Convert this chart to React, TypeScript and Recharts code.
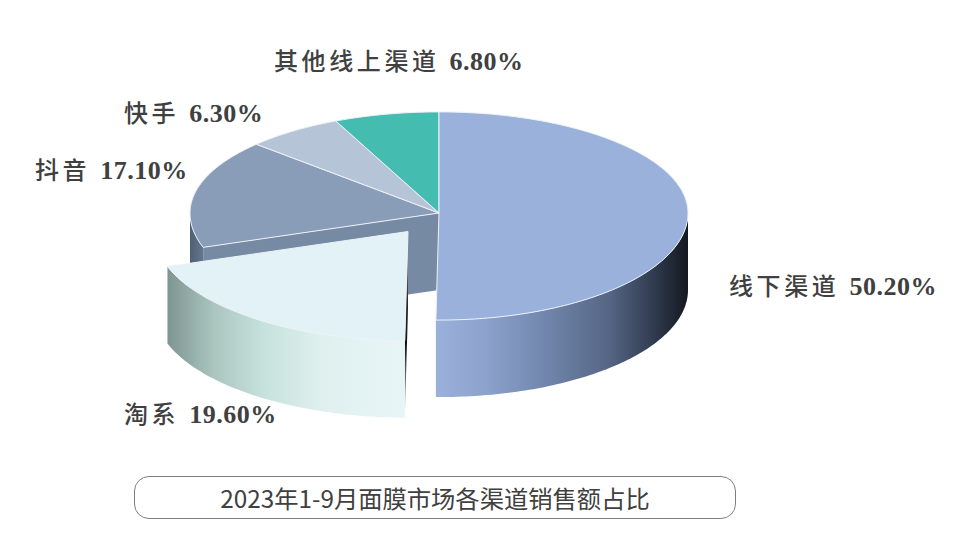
import React from "react";
import { PieChart, Pie } from "recharts";

const categories = ["抖音", "快手", "其他线上渠道", "线下渠道", "淘系"];
const values = [17.1, 6.3, 6.8, 50.2, 19.6];
const valueLabels = ["17.10%", "6.30%", "6.80%", "50.20%", "19.60%"];
const topColors = ["#8a9db8", "#b5c4d6", "#45bcb0", "#9ab1dc", "#e3f2f6"];
const wallFills = ["url(#wallDouyin)", "#b5c4d6", "#45bcb0", "url(#wallOffline)", "url(#wallTaoxi)"];
const tableData = categories.map((name, i) => ({ name, value: values[i] }));

const W = 970, H = 546;
const CX = 439, CY = 213, RX = 249, BACK_RATIO = 0.406, FRONT_RATIO = 0.43, DEPTH = 77;
const EXPLODED = 4;
const EXPLODE_DX = -31, EXPLODE_DY = 18.5, EXPLODE_SCALE = 1.02;
const START = 90 - 251.28;
const labelPos = [[35, 179], [124, 122], [274, 70], [729, 295], [124, 423]];

const rad = (d: number) => (d * Math.PI) / 180;

function Slice3D(props: any) {
  const { startAngle, endAngle, outerRadius, cx, cy, index } = props;
  const exploded = index === EXPLODED;
  const rx = outerRadius * (exploded ? EXPLODE_SCALE : 1);
  const ox = cx + (exploded ? EXPLODE_DX : 0);
  const oy = cy + (exploded ? EXPLODE_DY : 0);
  let t0 = 90 - startAngle;
  let t1 = 90 - endAngle;
  while (t0 >= 359.99) { t0 -= 360; t1 -= 360; }
  const P = (t: number, d = 0) => {
    const c = Math.cos(rad(t));
    const ry = rx * (c > 0 ? BACK_RATIO : FRONT_RATIO);
    return [ox + rx * Math.sin(rad(t)), oy - ry * c + d];
  };
  const sweep = (a: number, b: number, d = 0) => {
    const n = Math.max(2, Math.ceil(Math.abs(b - a)));
    let s = "";
    for (let k = 0; k <= n; k++) {
      const [x, y] = P(a + ((b - a) * k) / n, d);
      s += `L${x} ${y}`;
    }
    return s;
  };
  const [sx, sy] = P(t0);
  const top = `M${ox} ${oy}${sweep(t0, t1)}Z`;
  const w0 = Math.max(t0, 90);
  const w1 = Math.min(t1, 270);
  let wall: string | null = null;
  if (w1 > w0) {
    wall = `M${P(w0)[0]} ${P(w0)[1]}${sweep(w0, w1)}${sweep(w1, w0, DEPTH)}Z`;
  }
  const face = `M${ox} ${oy}L${sx} ${sy}L${sx} ${sy + DEPTH}L${ox} ${oy + DEPTH}Z`;
  return (
    <g>
      {index === 0 && <path d={face} fill="#778aa4" />}
      {exploded && <path d={face} fill="url(#faceTaoxi)" />}
      {wall && <path d={wall} fill={wallFills[index]} stroke="none" />}
      <path d={top} fill={topColors[index]} stroke="#eef2f7" strokeWidth={1} strokeLinejoin="round" />
    </g>
  );
}

const renderLabel = (props: any) => {
  const i = props.index;
  const [x, y] = labelPos[i];
  return (
    <text key={i} x={x} y={y} fill="#404040">
      <tspan fontFamily="'Noto Sans CJK SC'" fontSize={24} fontWeight={500} letterSpacing={3.6}>
        {categories[i]}
      </tspan>
      <tspan dx={10} fontFamily="'Liberation Serif'" fontSize={26} fontWeight={700} letterSpacing={0.5}>
        {valueLabels[i]}
      </tspan>
    </text>
  );
};

export default function App() {
  return (
    <div style={{ position: "absolute", left: 0, top: 0, width: W, height: H, background: "#fff" }}>
      <PieChart width={W} height={H} margin={{ top: 0, right: 0, bottom: 0, left: 0 }}>
        <defs>
          <linearGradient id="wallOffline" gradientUnits="userSpaceOnUse" x1={436} x2={689} y1={0} y2={0}>
            <stop offset="0" stopColor="#9ab1dc" />
            <stop offset="0.2" stopColor="#8ca2cc" />
            <stop offset="0.45" stopColor="#6f84aa" />
            <stop offset="0.68" stopColor="#566685" />
            <stop offset="0.85" stopColor="#323e53" />
            <stop offset="1" stopColor="#13171e" />
          </linearGradient>
          <linearGradient id="wallTaoxi" gradientUnits="userSpaceOnUse" x1={167} x2={405} y1={0} y2={0}>
            <stop offset="0" stopColor="#7f9490" />
            <stop offset="0.2" stopColor="#aac6bf" />
            <stop offset="0.4" stopColor="#c6e1db" />
            <stop offset="0.65" stopColor="#dff0ef" />
            <stop offset="1" stopColor="#e8f5f7" />
          </linearGradient>
          <linearGradient id="wallDouyin" gradientUnits="userSpaceOnUse" x1={190} x2={204} y1={0} y2={0}>
            <stop offset="0" stopColor="#4f6074" />
            <stop offset="1" stopColor="#66788f" />
          </linearGradient>
          <linearGradient id="faceTaoxi" gradientUnits="userSpaceOnUse" x1={0} x2={0} y1={231} y2={418}>
            <stop offset="0" stopColor="#c8d0d4" />
            <stop offset="0.35" stopColor="#2a2e30" />
            <stop offset="0.6" stopColor="#101214" />
            <stop offset="1" stopColor="#c8d0d4" />
          </linearGradient>
        </defs>
        <Pie
          data={tableData}
          dataKey="value"
          nameKey="name"
          cx={CX}
          cy={CY}
          innerRadius={0}
          outerRadius={RX}
          startAngle={START}
          endAngle={START - 360}
          shape={Slice3D}
          label={renderLabel}
          labelLine={false}
          isAnimationActive={false}
        />
      </PieChart>
      <div
        style={{
          position: "absolute", left: 134, top: 476, width: 600, height: 41,
          border: "1px solid #7f7f7f", borderRadius: 15, display: "flex",
          alignItems: "center", justifyContent: "center", color: "#404040",
          fontFamily: "'Noto Sans CJK SC'", fontSize: 24.3, whiteSpace: "nowrap",
        }}
      >
        2023年1-9月面膜市场各渠道销售额占比
      </div>
    </div>
  );
}
